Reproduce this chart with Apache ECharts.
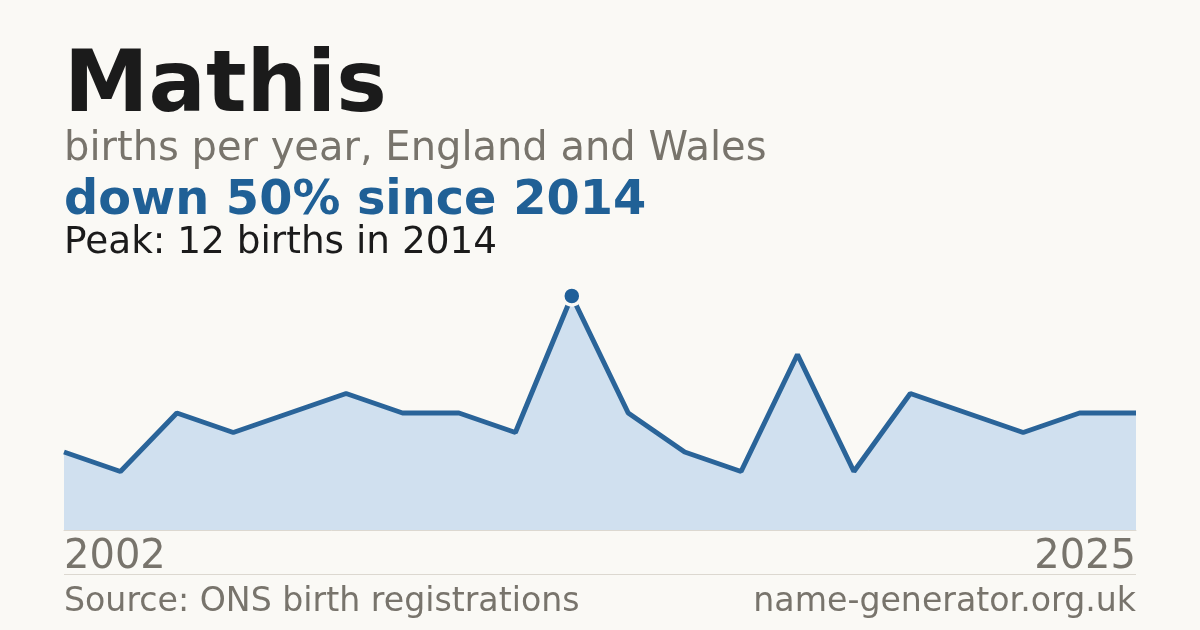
<!DOCTYPE html>
<html>
<head>
<meta charset="utf-8">
<script src="https://cdn.jsdelivr.net/npm/echarts@6/dist/echarts.min.js"></script>
<style>
html,body{margin:0;padding:0;background:#faf9f5;}
#c{width:1200px;height:630px;}
</style>
</head>
<body>
<div id="c"></div>
<script>
const years = ['2002','2003','2004','2006','2007','2008','2010','2011','2013','2014','2015','2016','2017','2018','2019','2020','2021','2023','2024','2025'];
const births = [4,3,6,5,6,7,6,6,5,12,6,4,3,9,3,7,6,5,6,6];
const peakIndex = 9;

const FONT = '"DejaVu Sans", sans-serif';
const chart = echarts.init(document.getElementById('c'), null, {renderer:'canvas'});
const lastIdx = years.length - 1;

chart.setOption({
  backgroundColor: '#faf9f5',
  animation: false,
  grid: {left: 64, right: 64, top: 296, bottom: 100},
  xAxis: {
    type: 'category',
    data: years,
    boundaryGap: false,
    axisLine: {show: true, lineStyle: {color: '#dcd8d0', width: 1}},
    axisTick: {show: false},
    splitLine: {show: false},
    axisLabel: {
      show: true,
      interval: 0,
      margin: 8,
      fontFamily: FONT,
      fontSize: 40,
      color: '#78746c',
      verticalAlign: 'top',
      alignMinLabel: 'left',
      alignMaxLabel: 'right',
      formatter: function (v, i) { return (i === 0 || i === lastIdx) ? v : ''; }
    }
  },
  yAxis: {
    type: 'value', min: 0, max: 12, show: false,
    splitLine: {show: false}
  },
  series: [{
    type: 'line',
    data: births,
    showSymbol: true,
    symbol: 'circle',
    symbolSize: function (v, p) { return p.dataIndex === peakIndex ? 18 : 0; },
    itemStyle: {color: '#1f5f99', borderColor: '#faf9f5', borderWidth: 3.5},
    lineStyle: {color: '#2a6499', width: 5},
    areaStyle: {color: '#d0e0ef', opacity: 1},
    z: 3
  }],
  graphic: [
    {type: 'text', x: 64, y: 89, style: {text: 'Mathis', font: 'bold 85px ' + FONT, fill: '#1b1b1b', verticalAlign: 'middle'}},
    {type: 'text', x: 64, y: 150, style: {text: 'births per year, England and Wales', font: '40px ' + FONT, fill: '#78746c', verticalAlign: 'middle'}},
    {type: 'text', x: 64, y: 201.5, style: {text: 'down 50% since 2014', font: 'bold 47.8px ' + FONT, fill: '#206096', verticalAlign: 'middle'}},
    {type: 'text', x: 64, y: 243.5, style: {text: 'Peak: 12 births in 2014', font: '37.4px ' + FONT, fill: '#1b1b1b', verticalAlign: 'middle'}},
    {type: 'line', shape: {x1: 64, y1: 574.5, x2: 1136, y2: 574.5}, style: {stroke: '#dcd8d0', lineWidth: 1}},
    {type: 'text', x: 64, y: 602, style: {text: 'Source: ONS birth registrations', font: '33.2px ' + FONT, fill: '#78746c', verticalAlign: 'middle'}},
    {type: 'text', x: 1136, y: 602, style: {text: 'name-generator.org.uk', font: '33.2px ' + FONT, fill: '#78746c', verticalAlign: 'middle', align: 'right'}}
  ]
});
</script>
</body>
</html>
